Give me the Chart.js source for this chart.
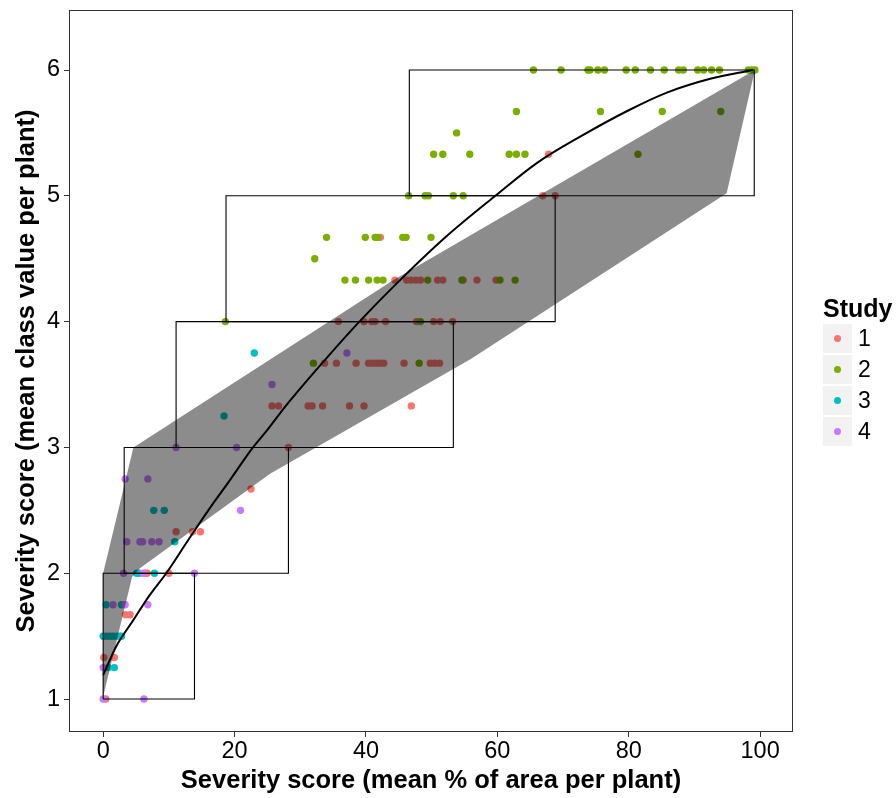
<!DOCTYPE html>
<html>
<head>
<meta charset="utf-8">
<script src="https://cdn.jsdelivr.net/npm/chart.js@4.4.1/dist/chart.umd.min.js"></script>
<style>
  html, body { margin: 0; padding: 0; background: #fff; }
  #wrap { position: relative; width: 896px; height: 798px; }
  #legend { position: absolute; left: 823px; top: 294px; font-family: "Liberation Sans", Arial, sans-serif; color: #000; }
  #legend .title { font-weight: bold; font-size: 25px; height: 28px; line-height: 28px; margin-bottom: 2px; white-space: nowrap; }
  #legend .item { position: relative; height: 29px; margin-bottom: 2px; }
  #legend .key { position: absolute; left: 0; top: 0; width: 29px; height: 29px; background: #f2f2f2; }
  #legend .dot { position: absolute; left: 11px; top: 11px; width: 7px; height: 7px; border-radius: 50%; }
  #legend .lab { position: absolute; left: 35px; top: 0; line-height: 29px; font-size: 23px; }
</style>
</head>
<body>
<div id="wrap">
  <canvas id="c" width="896" height="798"></canvas>
  <div id="legend"></div>
</div>
<script>
// ---- data ----
const studyNames = ["1", "2", "3", "4"];
const studyColors = ["#F8766D", "#7CAE00", "#00BFC4", "#C77CFF"];

const study1X = [0.4, 0.1, 1.7, 3.4, 4.1, 6.4, 6.7, 10.0, 11.1, 13.6, 14.8, 22.5, 28.2,
  25.7, 26.7, 31.2, 31.8, 33.4, 37.5, 39.7, 46.9,
  33.7, 35.5, 38.5, 40.4, 41.0, 41.6, 42.1, 42.7, 45.8, 49.8, 50.5, 51.2,
  35.8, 39.7, 40.9, 41.4, 43.0, 47.7, 50.3, 51.3, 53.2,
  44.4, 46.2, 46.9, 47.6, 48.3, 50.9, 51.7, 54.8, 56.9, 59.8,
  42.2, 66.9, 68.8, 67.8];
const study1Y = [1, 1.33, 1.33, 1.67, 1.67, 2, 2, 2, 2.33, 2.33, 2.33, 2.67, 3,
  3.33, 3.33, 3.33, 3.33, 3.33, 3.33, 3.33, 3.33,
  3.67, 3.67, 3.67, 3.67, 3.67, 3.67, 3.67, 3.67, 3.67, 3.67, 3.67, 3.67,
  4, 4, 4, 4, 4, 4, 4, 4, 4,
  4.33, 4.33, 4.33, 4.33, 4.33, 4.33, 4.33, 4.33, 4.33, 4.33,
  4.67, 5, 5, 5.33];

const study2X = [32.0, 48.1, 18.6, 48.3,
  36.8, 38.4, 40.4, 41.7, 42.6, 49.4, 54.6, 60.4, 62.7,
  32.2,
  34.0, 39.9, 41.4, 41.8, 45.6, 46.1, 49.9,
  46.5, 49.0, 49.5, 53.3, 54.8,
  50.3, 51.7, 55.8, 61.8, 62.9, 64.2, 81.4,
  53.8,
  62.9, 75.7, 85.1, 94.0,
  65.5, 69.7, 73.8, 74.1, 75.3, 76.3, 79.6, 81.0, 83.3, 85.4, 87.6, 88.3, 90.5, 91.4, 92.6, 93.8, 98.2, 98.7, 99.2];
const study2Y = [3.67, 3.67, 4, 4,
  4.33, 4.33, 4.33, 4.33, 4.33, 4.33, 4.33, 4.33, 4.33,
  4.5,
  4.67, 4.67, 4.67, 4.67, 4.67, 4.67, 4.67,
  5, 5, 5, 5, 5,
  5.33, 5.33, 5.33, 5.33, 5.33, 5.33, 5.33,
  5.5,
  5.67, 5.67, 5.67, 5.67,
  6, 6, 6, 6, 6, 6, 6, 6, 6, 6, 6, 6, 6, 6, 6, 6, 6, 6, 6];

const study3X = [0.8, 1.7, 0, 0.5, 1.0, 1.5, 2.0, 2.5, 2.8, 0.45, 2.8, 5.1, 5.5, 7.8, 10.9, 7.7, 9.3, 18.4, 23.0];
const study3Y = [1.25, 1.25, 1.5, 1.5, 1.5, 1.5, 1.5, 1.5, 1.5, 1.75, 1.75, 2, 2, 2, 2.25, 2.5, 2.5, 3.25, 3.75];

const study4X = [0, 6.2, 0, 1.5, 3.35, 6.8, 3.1, 6.1, 13.9, 3.6, 5.6, 6.0, 7.4, 8.5, 20.9, 3.35, 6.8, 11.1, 20.3, 25.7, 37.1];
const study4Y = [1, 1, 1.25, 1.75, 1.75, 1.75, 2, 2, 2, 2.25, 2.25, 2.25, 2.25, 2.25, 2.5, 2.75, 2.75, 3, 3, 3.5, 3.75];

const rectXMin = [0, 3.2, 11.1, 18.7, 46.6];
const rectXMax = [13.9, 28.2, 53.3, 68.8, 99.1];
const rectYMin = [1, 2, 3, 4, 5];
const rectYMax = [2, 3, 4, 5, 6];

const bandX = [0, 0, 4.6, 44.2, 99.2, 94.9, 55.9, 25.4, 5.6, 4.4, 0];
const bandY = [1.02, 2.0, 3.0, 4.33, 6.0, 5.02, 3.70, 2.79, 2.04, 1.97, 1.02];

const curveX = [0, 2, 4.5, 7, 9.6, 12.9, 16, 19.3, 22.8, 25, 27.8, 33.5, 39, 45.2, 52.3, 59.7, 66, 72.6, 80, 85.8, 92.4, 98.9];
const curveY = [1.19, 1.42, 1.62, 1.82, 2.0, 2.26, 2.5, 2.74, 3.0, 3.14, 3.33, 3.68, 4.0, 4.33, 4.68, 5.0, 5.26, 5.47, 5.68, 5.82, 5.93, 6.0];

const xTicks = [0, 20, 40, 60, 80, 100];
const yTicks = [1, 2, 3, 4, 5, 6];
const xTitle = "Severity score (mean % of area per plant)";
const yTitle = "Severity score (mean class value per plant)";
const legendTitle = "Study";

// ---- build datasets ----
const zip = (xs, ys) => xs.map((x, i) => ({ x: x, y: ys[i] }));
const studiesX = [study1X, study2X, study3X, study4X];
const studiesY = [study1Y, study2Y, study3Y, study4Y];

const datasets = [];
studiesX.forEach((xs, k) => {
  datasets.push({
    label: studyNames[k],
    data: zip(xs, studiesY[k]),
    backgroundColor: studyColors[k],
    borderWidth: 0,
    pointRadius: 3.7,
    pointBorderWidth: 0,
    showLine: false,
    order: 20 - k
  });
});
datasets.push({
  label: "band",
  data: zip(bandX, bandY),
  showLine: true,
  fill: 'shape',
  backgroundColor: 'rgba(0,0,0,0.45)',
  borderWidth: 0,
  borderColor: 'rgba(0,0,0,0)',
  pointRadius: 0,
  tension: 0,
  order: 5
});
rectXMin.forEach((x0, i) => {
  const x1 = rectXMax[i], y0 = rectYMin[i], y1 = rectYMax[i];
  datasets.push({
    label: "rect" + i,
    data: [{x: x0, y: y0}, {x: x1, y: y0}, {x: x1, y: y1}, {x: x0, y: y1}, {x: x0, y: y0}],
    showLine: true,
    fill: false,
    borderColor: '#000',
    borderWidth: 1.1,
    pointRadius: 0,
    tension: 0,
    order: 3
  });
});
datasets.push({
  label: "curve",
  data: zip(curveX, curveY),
  showLine: true,
  fill: false,
  borderColor: '#000',
  borderWidth: 2,
  pointRadius: 0,
  cubicInterpolationMode: 'monotone',
  order: 1
});

const FONT = "'Liberation Sans', Arial, sans-serif";

const panelBorder = {
  id: 'panelBorder',
  afterDraw(chart) {
    const a = chart.chartArea, ctx = chart.ctx;
    ctx.save();
    ctx.strokeStyle = '#333';
    ctx.lineWidth = 1;
    ctx.strokeRect(Math.round(a.left) + 0.5, Math.round(a.top) + 0.5, Math.round(a.right - a.left) - 1, Math.round(a.bottom - a.top) - 1);
    ctx.restore();
  }
};

new Chart(document.getElementById('c'), {
  type: 'scatter',
  data: { datasets: datasets },
  options: {
    responsive: false,
    animation: false,
    events: [],
    layout: { padding: { left: 0, top: 0, right: 103, bottom: 0 } },
    plugins: { legend: { display: false }, tooltip: { enabled: false } },
    scales: {
      x: {
        type: 'linear', min: -5.2, max: 105,
        afterFit(s) { s.height = 66; s.paddingTop = 0; },
        afterBuildTicks(s) { s.ticks = xTicks.map(v => ({ value: v })); },
        grid: { display: true, drawOnChartArea: false, drawTicks: true, tickLength: 5, tickColor: '#333', tickWidth: 1 },
        border: { display: false },
        ticks: { color: '#000', font: { family: FONT, size: 23.5 }, padding: 0, maxRotation: 0 },
        title: { display: true, text: xTitle, color: '#000', font: { family: FONT, size: 25.5, weight: 'bold' }, padding: { top: 0, bottom: 2 } }
      },
      y: {
        type: 'linear', min: 0.738, max: 6.477,
        afterFit(s) { s.width = 69; s.paddingTop = 10; s.paddingBottom = 0; },
        afterBuildTicks(s) { s.ticks = yTicks.map(v => ({ value: v })); },
        grid: { display: true, drawOnChartArea: false, drawTicks: true, tickLength: 5, tickColor: '#333', tickWidth: 1 },
        border: { display: false },
        ticks: { color: '#000', font: { family: FONT, size: 23.5 }, padding: 4 },
        title: { display: true, text: yTitle, color: '#000', font: { family: FONT, size: 25.5, weight: 'bold' }, padding: { top: 12, bottom: 0 } }
      }
    }
  },
  plugins: [panelBorder]
});

// ---- legend ----
const lg = document.getElementById('legend');
let html = '<div class="title">' + legendTitle + '</div>';
studyNames.forEach((n, k) => {
  html += '<div class="item"><div class="key"><div class="dot" style="background:' + studyColors[k] + '"></div></div><div class="lab">' + n + '</div></div>';
});
lg.innerHTML = html;
</script>
</body>
</html>
